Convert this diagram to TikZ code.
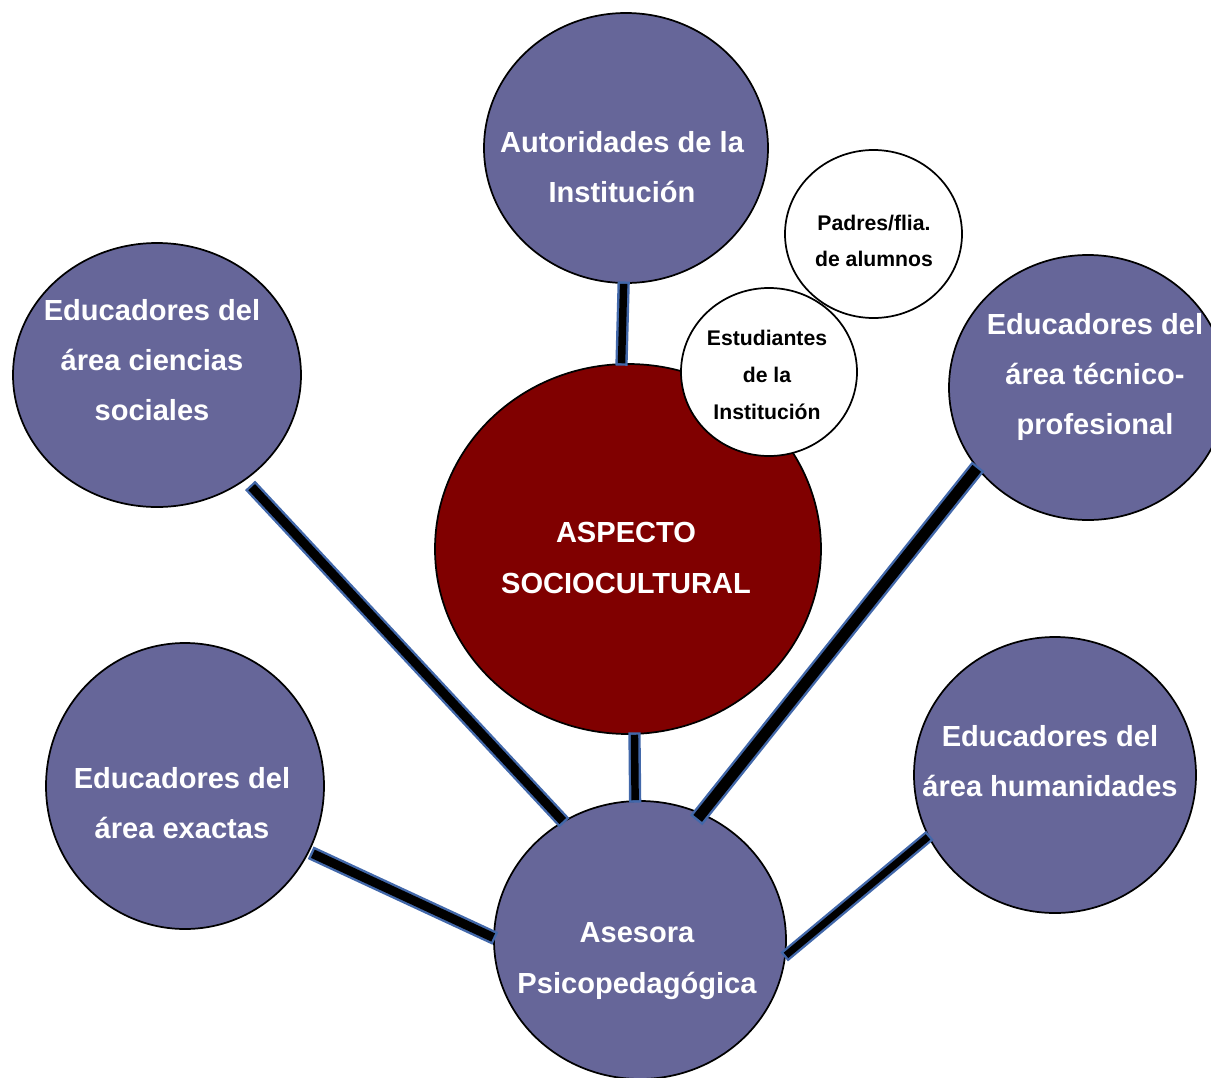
\documentclass[tikz,border=0pt]{standalone}
\usepackage{fontspec}
\setmainfont{Liberation Sans}
\usetikzlibrary{shapes.geometric,calc}
\definecolor{blobfill}{RGB}{102,102,153}
\definecolor{corefill}{RGB}{128,0,0}
\definecolor{linkblue}{RGB}{66,104,170}
\tikzset{
 blob/.style 2 args={ellipse, draw=black, line width=1.3pt, fill=blobfill, inner sep=0pt, minimum width=#1*1.5pt, minimum height=#2*1.5pt},
 bigtext/.style={text=white, align=center, inner sep=0pt, font=\fontsize{21.8}{37.7}\selectfont\bfseries},
 smalltext/.style={text=black, align=center, inner sep=0pt, font=\fontsize{15.9}{27.5}\selectfont\bfseries},
 conn/.style={draw=black, line width=#1, line cap=butt, preaction={draw=linkblue, line width=#1+3.6pt, shorten <=-1.8pt, shorten >=-1.8pt}},
}
\begin{document}
\begin{tikzpicture}[x=0.75pt,y=-0.75pt]
\useasboundingbox (0,0) rectangle (1211,1078);
\clip (0,0) rectangle (1211,1078);
% circles
\node[blob={142}{135}] (aut) at (626,148) {};
\node[blob={144}{132}] (soc) at (157,375) {};
\node[blob={139}{132.5}] (tec) at (1088,387.5) {};
\node[blob={139}{143}] (exa) at (185,786) {};
\node[blob={141}{138}] (hum) at (1055,775) {};
\node[blob={146}{139}] (ase) at (640,940) {};
\node[blob={193}{185}, fill=corefill] (asp) at (628,549) {};
\node[blob={88}{84}, fill=white] (est) at (769,372) {};
\node[blob={88.5}{84}, fill=white] (pad) at (873.5,234) {};
% texts
\node[bigtext] (autT) at (622,167) {Autoridades de la\\Institución};
\node[bigtext] (socT) at (152,360) {Educadores del\\área ciencias\\sociales};
\node[bigtext] (tecT) at (1095,377) {Educadores del\\área técnico-\\profesional};
\node[bigtext] (aspT) at (626,558) {ASPECTO\\SOCIOCULTURAL};
\node[bigtext] (exaT) at (182,803) {Educadores del\\área exactas};
\node[bigtext] (humT) at (1050,761) {Educadores del\\área humanidades};
\node[bigtext] (aseT) at (637,961) {Asesora\\Psicopedagógica};
\node[smalltext] (padT) at (874,241) {Padres/flia.\\de alumnos};
\node[smalltext] (estT) at (767,375) {Estudiantes\\de la\\Institución};
% connectors
\draw[conn=5.6pt] (aut.-91.9) -- (asp.92);
\draw[conn=5.6pt] (asp.-88.5) -- (ase.92.9);
\draw[conn=6.75pt] ($(soc.-50.3)!7pt!(ase.123.1)$) -- (ase.123.1);
\draw[conn=8.25pt] (tec.216.9) -- ($(ase.64.2)!-5pt!(tec.216.9)$);
\draw[conn=6.75pt] ($(exa.-28.3)!3pt!(ase.179.6)$) -- (ase.179.6);
\draw[conn=5.25pt] (hum.206.2) -- (ase.-6.6);
\end{tikzpicture}
\end{document}
